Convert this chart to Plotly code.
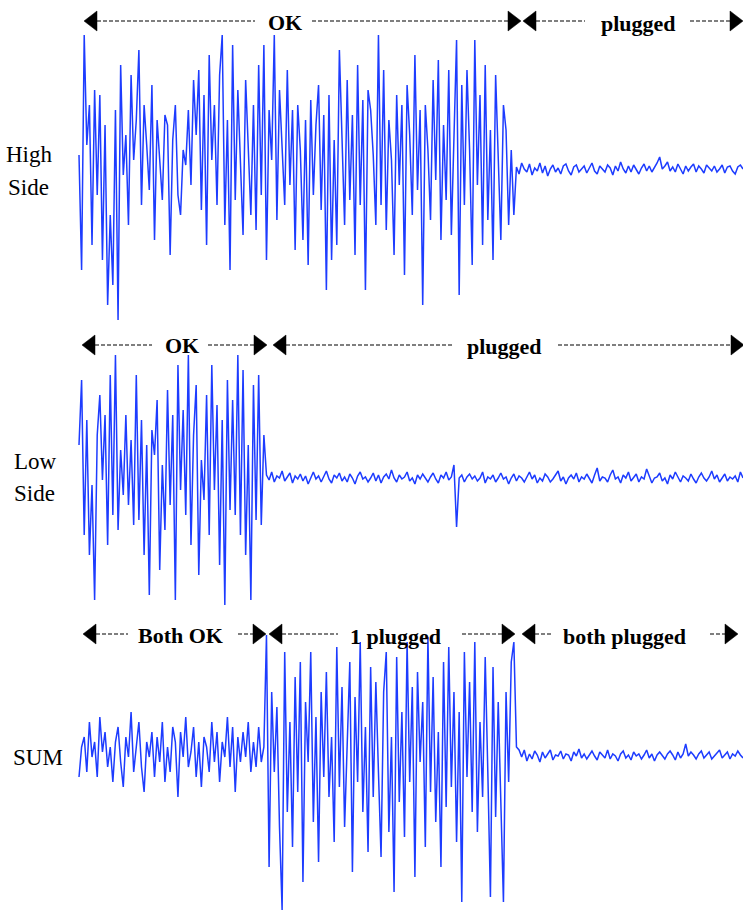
import plotly.graph_objects as go

# ---------------- data (signal samples) ----------------
HIGH_OK = [10,-105,130,20,60,-80,75,-30,70,-95,
           40,-140,-50,-120,55,-155,100,-10,30,-60,
           90,5,45,115,-40,60,20,-25,80,-75,
           45,10,-35,50,40,-90,25,60,-30,-50,
           15,0,55,-20,85,30,95,-45,70,-80,
           110,5,60,-40,90,130,-60,45,-105,120,
           -35,75,10,-70,85,20,-50,60,-65,100,
           -30,120,-95,55,5,130,-55,75,20,-40,
           95,-20,55,-85,60,15,-75,45,-100,65,
           -30,40,80,-45,50,-125,70,-95,25,-80,
           115,20,-60,85,-35,50,-90,100,-40,65,
           -125,75,55,10,-60,130,-40,95,-65,45,
           5,-90,70,-20,60,-110,80,30,-50,110,
           -25,55,-140,60,15,-55,85,-15,105,-75,
           40,-35,95,-70,30,125,-130,80,-40,95,
           15,-100,125,-20,70,-80,100,-55,35,-95,
           90,10,-75,60,35,-60,15,-50]
HIGH_PLUGGED = [-2,-9,2,-4,-7,1,-10,-3,-6,2,
                -8,-1,-11,-4,0,-7,-3,-9,-1,1,
                -6,-10,-2,0,-7,-4,-1,-8,-3,2,
                -6,-9,-1,-4,-7,0,-3,-10,-1,-6,
                3,-4,-8,-1,-7,0,-4,-9,-3,1,
                -6,-1,-7,-3,2,8,-4,-1,3,-6,
                -2,-7,1,-4,-9,-1,-6,-2,1,-7,
                -1,-4,-8,0,-3,-6,-1,-7,-4,0,
                -8,-2,-1,-6,-9,-2,0,-4]

LOW_OK = [30,95,-60,55,-80,-10,-125,40,80,-5,
          60,-70,100,-40,120,-55,25,-20,60,-30,
          35,-50,100,-45,55,-80,30,-120,45,20,
          75,-95,10,-55,85,-30,60,-125,110,-15,
          65,-40,120,-70,40,90,-100,15,-25,80,
          -60,110,-15,70,-90,55,-130,95,-35,75,
          -40,120,-60,105,-80,30,-125,90,-45,100,
          -50,40]
LOW_PLUGGED = [0,-5,3,-7,-1,-3,4,-6,-2,2,
               -8,-1,-4,1,-6,-1,-9,-3,3,-4,
               -1,-7,-2,4,-4,-8,0,-3,2,-6,
               -2,-7,1,-3,-9,-1,3,-4,-2,-7,
               -3,2,-6,0,-8,-2,1,-4,5,-3,
               -7,0,-4,-2,3,-6,-3,-9,0,-4,
               1,-3,-7,-2,2,-4,-8,0,-3,3,
               -5,-2,10,-52,-3,0,-7,-2,1,-4,
               -1,-6,-3,3,-8,-2,-4,0,-7,-3,
               2,-4,-2,-9,-3,1,-6,-1,-3,-7,
               -2,3,-4,0,-8,-3,-6,1,-2,-7,
               -4,0,4,-6,-2,-9,-3,0,-4,2,
               -7,-2,-4,1,-3,-8,0,7,-6,-2,
               -3,-7,0,5,-4,-2,-8,0,-3,3,
               -6,-3,1,-7,-2,-4,6,-1,-8,-3,
               -2,2,-6,-3,-9,0,-4,3,-2,-7,
               -1,-3,-6,1,-4,-8,-2,2,-3,-6,
               -2,4,-4,0,-7,-3,1,-6,-2,-4,
               -1,-7,3,-3]

SUM_BOTH_OK = [-25,5,15,-20,30,-5,10,-25,35,0,
               20,-15,5,-30,10,25,-10,-35,15,-5,
               40,-20,5,30,-15,-40,10,-5,20,-25,
               15,-10,30,-30,5,-20,25,10,-45,20,
               -5,35,-15,0,25,-25,10,-35,15,5,
               -20,30,-10,20,-30,10,-5,35,-15,25,
               -40,15,-10,20,-5,30,-20,10,-15,25,
               -10,5]
SUM_ONE_PLUGGED = [117,-115,60,-20,45,-75,-158,100,-60,30,
                   -95,75,-40,90,-130,50,-10,100,-70,35,
                   -110,60,-25,80,-45,15,-90,105,-35,65,
                   -75,20,90,-120,55,-30,110,-60,25,-100,
                   85,-45,70,-20,-105,60,100,-80,15,-140,
                   95,-50,40,-85,110,-30,65,-125,80,-10,
                   50,-95,115,-40,75,-70,20,-115,90,-55,
                   105,-35,60,-90,40,-150,100,-25,70,-60,
                   110,-80,30,-45,95,-20,-145,85,-65,50,
                   -40,-150,60,-30,90,110]
SUM_BOTH_PLUGGED = [5,2,-5,2,-9,-2,-7,1,-3,-10,
                    0,-6,-2,2,-8,-3,-4,1,-7,-2,
                    -3,-9,0,-4,3,-6,-2,-7,-3,1,
                    -4,-8,0,-3,-6,2,-7,-2,-4,-9,
                    -2,1,-6,-3,-8,0,-4,-2,-7,-3,
                    2,-6,-2,-9,-3,0,-4,-7,-2,1,
                    -3,-8,0,-6,-2,8,-4,0,-3,-7,
                    -2,1,-6,-3,0,-7,-4,-2,2,-6,
                    -3,0,-7,-2,-4,1,-3,-6]

SIDE_LABELS = [("High", 30, 154), ("Side", 28, 188),
               ("Low", 35, 462), ("Side", 34, 494),
               ("SUM", 38, 757)]

# ---------------- figure ----------------
W, H = 743, 912
BLUE = "#1d3cff"

high = HIGH_OK + HIGH_PLUGGED
low = LOW_OK + LOW_PLUGGED
sumsig = SUM_BOTH_OK + SUM_ONE_PLUGGED + SUM_BOTH_PLUGGED

fig = go.Figure()
for sig, ya in [(high, "y"), (low, "y2"), (sumsig, "y3")]:
    fig.add_trace(go.Scatter(x=list(range(len(sig))), y=sig, mode="lines",
                             line=dict(color=BLUE, width=1.5), yaxis=ya,
                             hoverinfo="skip"))

def dom(top_px, bot_px):
    return [1 - bot_px / H, 1 - top_px / H]

spacing = 664 / 255.0
x0 = -79 / spacing
fig.update_layout(
    width=W, height=H, margin=dict(l=0, r=0, t=0, b=0),
    paper_bgcolor="white", plot_bgcolor="white", showlegend=False,
    xaxis=dict(range=[x0, x0 + W / spacing], visible=False),
    yaxis=dict(domain=dom(30, 325), range=[-160, 135], visible=False),
    yaxis2=dict(domain=dom(335, 615), range=[-140, 140], visible=False),
    yaxis3=dict(domain=dom(625, 912), range=[-160, 127], visible=False),
)

def px(x):
    return x / W

def py(y):
    return 1 - y / H

shapes = []
annotations = []

def dash(xa, xb, y):
    shapes.append(dict(type="line", xref="paper", yref="paper",
                       x0=px(xa), x1=px(xb), y0=py(y), y1=py(y),
                       line=dict(color="black", width=1.1, dash="4px,2px")))

def tri(tip, base, y, hh=10):
    path = (f"M {px(tip)},{py(y)} L {px(base)},{py(y - hh)} "
            f"L {px(base)},{py(y + hh)} Z")
    shapes.append(dict(type="path", xref="paper", yref="paper", path=path,
                       fillcolor="black", line=dict(color="black", width=0.5)))

def label(text, x, y, size=22):
    annotations.append(dict(text=f"<b>{text}</b>", x=px(x), y=py(y),
                            xref="paper", yref="paper", showarrow=False,
                            xanchor="center", yanchor="middle",
                            font=dict(family="Liberation Serif", size=size,
                                      color="black")))

# row 1
y = 21
tri(84, 97, y); dash(97, 255, y); label("OK", 285, y + 1)
dash(312, 508, y); tri(521, 508, y); tri(523, 536, y); dash(536, 585, y)
label("plugged", 638, y + 3); dash(690, 730, y); tri(743, 730, y)
# row 2
y = 345
tri(82, 95, y); dash(95, 152, y); label("OK", 182, y)
dash(208, 254, y); tri(267, 254, y); tri(273, 286, y); dash(286, 453, y)
label("plugged", 505, y + 2); dash(558, 731, y); tri(744, 731, y)
# row 3
y = 634
tri(83, 96, y); dash(96, 128, y); label("Both OK", 180, y + 1)
dash(238, 253, y); tri(266, 253, y); tri(269, 282, y); dash(282, 338, y)
label("1 plugged", 395, y + 2); dash(462, 502, y); tri(515, 502, y)
tri(522, 535, y); dash(535, 553, y); label("both plugged", 624, y + 2)
dash(710, 725, y); tri(738, 725, y)

for text, x, yy in SIDE_LABELS:
    annotations.append(dict(text=text, x=px(x), y=py(yy), xref="paper",
                            yref="paper", showarrow=False, xanchor="center",
                            yanchor="middle",
                            font=dict(family="Liberation Serif", size=23,
                                      color="black")))

fig.update_layout(shapes=shapes, annotations=annotations)
fig.write_html("out.html", config={"displayModeBar": False},
               post_script="document.body.style.margin='0';"
                           "document.body.style.overflow='hidden';")
